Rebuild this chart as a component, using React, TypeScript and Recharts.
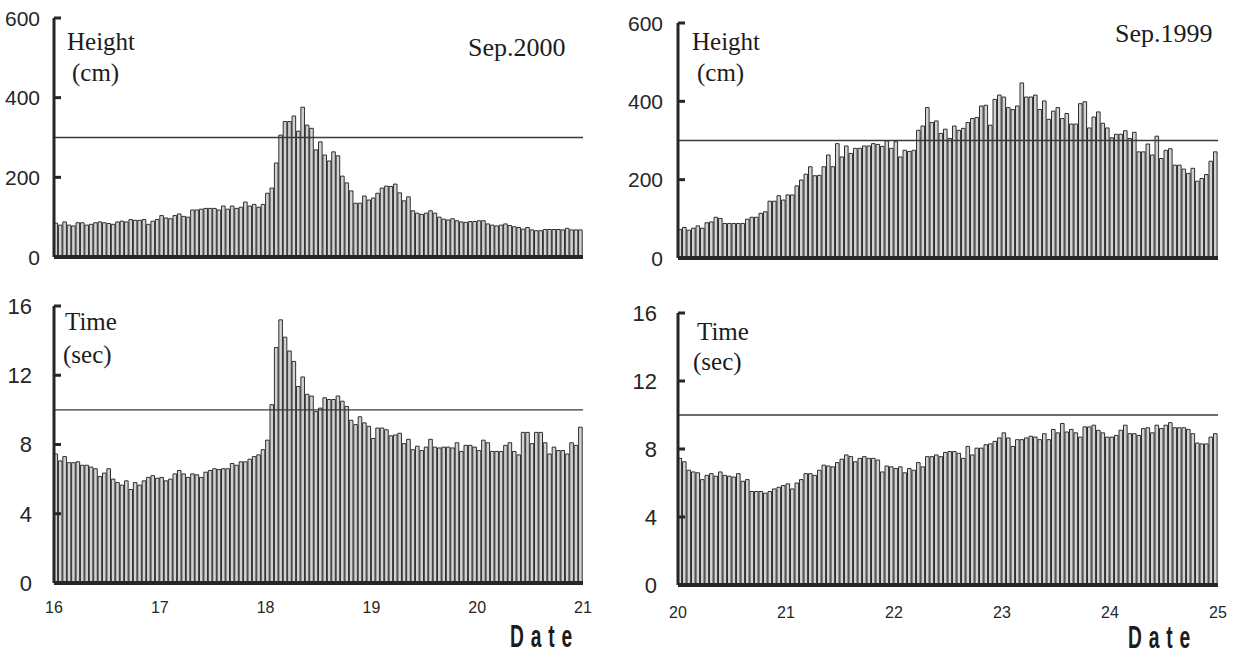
import React from "react";
import { Bar, BarChart, ReferenceLine, XAxis, YAxis } from "recharts";

// hourly readings, 5 days per panel (120 bars)
const heightSep2000 = [
  85, 80, 88, 80, 78, 86, 86, 80, 82, 86, 88, 86, 84, 82, 88, 90, 88, 94, 92, 92, 94, 82, 90, 94,
  104, 98, 96, 104, 108, 102, 100, 118, 118, 120, 122, 122, 122, 118, 128, 120, 128, 122, 125,
  138, 128, 132, 125, 132, 160, 173, 236, 306, 340, 340, 354, 316, 376, 331, 323, 269, 289, 256,
  241, 264, 254, 203, 186, 166, 135, 135, 153, 143, 148, 160, 173, 178, 177, 183, 161, 141, 151,
  116, 110, 107, 110, 116, 110, 100, 95, 93, 96, 91,
  88, 87, 89, 89, 91, 91, 83, 80, 78, 80, 83, 79, 76, 74, 70, 74, 68, 66, 66, 69, 69, 69, 69, 68,
  72, 68, 68, 68,
];

const timeSep2000 = [
  7.45, 7.05, 7.3, 6.95, 6.95, 7.0, 6.8, 6.8, 6.7, 6.6, 6.15, 6.35, 6.6, 6.0, 5.8, 5.65, 5.9, 5.4,
  5.8, 5.65, 5.9, 6.1, 6.2, 6.05, 6.1, 5.9, 6.0, 6.3, 6.5, 6.3, 6.1, 6.3, 6.25, 6.1, 6.4, 6.5, 6.6,
  6.55, 6.6, 6.6, 6.9, 6.8, 7.0, 7.0, 7.15, 7.3, 7.4, 7.7, 8.25, 10.3, 13.6, 15.2, 14.2, 13.4, 12.8,
  11.35, 11.9, 10.9,
  10.8, 9.9, 10.1, 10.7, 10.6, 10.6, 10.8, 10.5, 10.2, 9.4, 9.15, 9.6, 9.25, 9.05, 8.35, 8.95, 8.95,
  8.85, 8.5, 8.55, 8.65, 8.05, 8.3, 7.7, 7.9, 7.65, 7.85, 8.3, 7.85, 7.8, 7.85, 7.85, 7.8, 8.1, 7.6,
  7.95, 7.95, 7.85, 7.65, 8.25, 8.1, 7.6, 7.6, 7.6, 7.95, 8.1, 7.6, 7.4, 8.7, 8.7, 8.05, 8.7, 8.7,
  8.1, 7.45, 7.85, 7.65, 7.65, 7.45, 8.1, 7.95, 9.0,
];

const heightSep1999 = [
  73, 78, 71, 76, 82, 76, 90, 92, 104, 101, 88, 88, 88, 88, 88, 99, 104, 104, 114, 118, 145, 145,
  159, 148, 161, 161, 184, 199, 214, 233, 210, 211, 233, 263, 233, 292, 258, 286, 267, 280, 280,
  286, 286, 292, 290, 285, 299, 280, 297, 258, 275, 272,
  275, 326, 337, 384, 346, 350, 318, 329, 305, 337, 326, 331, 346, 356, 359, 388, 390, 339, 405,
  416, 411, 384, 379, 388, 447, 411, 411, 416, 379, 401, 354, 375, 384, 356, 369, 342, 342, 394,
  399, 332, 360, 373, 344, 332, 307, 316, 316, 325, 305, 321, 271, 271, 291, 263, 311, 254, 275,
  279, 237, 237, 227, 216, 229, 196, 203, 213, 247, 271,
];

const timeSep1999 = [
  7.45, 7.25, 6.75, 6.65, 6.6, 6.2, 6.45, 6.55, 6.4, 6.65, 6.45, 6.4, 6.35, 6.55, 6.1, 6.2, 5.5, 5.5,
  5.5, 5.4, 5.5, 5.65, 5.75, 5.85, 5.95, 5.65, 6.0, 6.2, 6.55, 6.55, 6.45, 6.75, 7.05, 7.0, 6.95,
  7.2, 7.4, 7.65, 7.55, 7.25, 7.45, 7.55, 7.45, 7.45, 7.35, 6.65, 7.0, 6.95, 6.85, 6.95, 6.6, 6.85,
  6.75,
  7.2, 6.95, 7.55, 7.55, 7.65, 7.55, 7.8, 7.85, 7.85, 7.75, 7.45, 8.15, 7.65, 8.05, 8.05, 8.25, 8.3,
  8.45, 8.65, 8.95, 8.65, 8.15, 8.55, 8.55, 8.65, 8.75, 8.7, 8.55, 8.9, 8.55, 9.15, 8.95, 9.5, 9.0,
  9.15, 8.95, 8.7, 9.3, 9.3, 9.4, 9.1, 8.95, 8.7, 8.7, 8.8, 9.1, 9.4, 8.9, 8.9, 8.8, 9.2, 9.25, 8.95,
  9.4, 9.2, 9.4, 9.55, 9.25, 9.25, 9.25, 9.15, 8.9, 8.35, 8.3, 8.3, 8.7, 8.9,
];

const hourTicks = [0, 24, 48, 72, 96, 120];
const daysSep2000 = [16, 17, 18, 19, 20, 21];
const daysSep1999 = [20, 21, 22, 23, 24, 25];
const heightTicks = [0, 200, 400, 600];
const timeTicks = [0, 4, 8, 12, 16];
const heightLimit = 300;
const timeLimit = 10;

const INK = "#262626";
const SANS = "'Liberation Sans', Arial, sans-serif";
const SERIF = "'Liberation Serif', 'Times New Roman', serif";

const toRows = (vals: number[]) => vals.map((v, i) => ({ hour: i + 0.5, v }));

function YTick(props: any) {
  const { x, y, payload, gap, fontSize } = props;
  return (
    <g>
      {payload.value !== 0 && (
        <line x1={x + gap} x2={x + gap + 7} y1={y} y2={y} stroke={INK} strokeWidth={3} />
      )}
      <text x={x} y={y} dy="0.36em" textAnchor="end" fontSize={fontSize} fontFamily={SANS} fill={INK}>
        {payload.value}
      </text>
    </g>
  );
}

type PanelProps = {
  values: number[];
  left: number;
  top: number;
  width: number;
  height: number;
  margin: { top: number; right: number; bottom: number; left: number };
  yWidth: number;
  yMax: number;
  yTicks: number[];
  yGap: number;
  yFont: number;
  limit: number;
  days?: number[];
  xGap?: number;
};

function Panel(p: PanelProps) {
  return (
    <div style={{ position: "absolute", left: p.left, top: p.top }}>
      <BarChart width={p.width} height={p.height} data={toRows(p.values)} margin={p.margin}>
        <XAxis
          type="number"
          dataKey="hour"
          domain={[0, 120]}
          ticks={hourTicks}
          interval={0}
          height={p.days ? 40 : 1}
          tick={p.days ? { fill: INK, fontSize: 16, fontFamily: SANS } : false}
          tickFormatter={(t: number) => (p.days ? String(p.days[t / 24]) : "")}
          tickLine={false}
          tickSize={0}
          tickMargin={p.xGap ?? 0}
          axisLine={{ stroke: INK, strokeWidth: 4 }}
        />
        <YAxis
          domain={[0, p.yMax]}
          ticks={p.yTicks}
          interval={0}
          width={p.yWidth}
          tickSize={0}
          tickMargin={p.yGap}
          tickLine={false}
          axisLine={{ stroke: INK, strokeWidth: 3 }}
          tick={(tp: any) => <YTick {...tp} gap={p.yGap} fontSize={p.yFont} />}
        />
        <Bar
          dataKey="v"
          fill="#d2d2d2"
          stroke="#2e2e2e"
          strokeWidth={1}
          barSize={3.6}
          isAnimationActive={false}
        />
        <ReferenceLine y={p.limit} stroke="#3a3a3a" strokeWidth={1.4} />
      </BarChart>
    </div>
  );
}

function Txt({ x, y, size, children }: any) {
  return (
    <div
      style={{
        position: "absolute",
        left: x,
        top: y,
        fontFamily: SERIF,
        fontSize: size,
        lineHeight: 1,
        color: "#1c1c1c",
        whiteSpace: "nowrap",
      }}
    >
      {children}
    </div>
  );
}

// narrow, spaced-out bold axis caption
function DateCaption({ x, y }: { x: number; y: number }) {
  return (
    <text
      transform={`translate(${x},${y}) scale(0.62,1)`}
      fontFamily={SANS}
      fontWeight={700}
      fontSize={31}
      letterSpacing={11}
      fill="#1c1c1c"
    >
      Date
    </text>
  );
}

export default function App() {
  return (
    <div style={{ position: "absolute", left: 0, top: 0, width: 1235, height: 656, background: "#fff" }}>
      <Panel
        values={heightSep2000}
        left={0}
        top={0}
        width={600}
        height={280}
        margin={{ top: 18, right: 17, bottom: 22, left: 0 }}
        yWidth={54}
        yMax={600}
        yTicks={heightTicks}
        yGap={14}
        yFont={21}
        limit={heightLimit}
      />
      <Panel
        values={heightSep1999}
        left={600}
        top={0}
        width={635}
        height={280}
        margin={{ top: 23, right: 17, bottom: 21, left: 0 }}
        yWidth={78}
        yMax={600}
        yTicks={heightTicks}
        yGap={15}
        yFont={21}
        limit={heightLimit}
      />
      <Panel
        values={timeSep2000}
        left={0}
        top={280}
        width={600}
        height={376}
        margin={{ top: 26, right: 17, bottom: 33, left: 0 }}
        yWidth={54}
        yMax={16}
        yTicks={timeTicks}
        yGap={22}
        yFont={22}
        limit={timeLimit}
        days={daysSep2000}
        xGap={19}
      />
      <Panel
        values={timeSep1999}
        left={600}
        top={280}
        width={635}
        height={376}
        margin={{ top: 33, right: 17, bottom: 31, left: 0 }}
        yWidth={78}
        yMax={16}
        yTicks={timeTicks}
        yGap={21}
        yFont={22}
        limit={timeLimit}
        days={daysSep1999}
        xGap={22}
      />

      <Txt x={67} y={29} size={25}>Height</Txt>
      <Txt x={72} y={60} size={25}>(cm)</Txt>
      <Txt x={468} y={35} size={26}>Sep.2000</Txt>
      <Txt x={692} y={29} size={25}>Height</Txt>
      <Txt x={697} y={60} size={25}>(cm)</Txt>
      <Txt x={1115} y={21} size={26}>Sep.1999</Txt>

      <Txt x={65} y={309} size={25}>Time</Txt>
      <Txt x={63} y={342} size={25}>(sec)</Txt>
      <Txt x={697} y={319} size={25}>Time</Txt>
      <Txt x={693} y={349} size={25}>(sec)</Txt>

      <svg width={1235} height={56} style={{ position: "absolute", left: 0, top: 600 }}>
        <DateCaption x={510} y={47} />
        <DateCaption x={1128} y={48} />
      </svg>
    </div>
  );
}
